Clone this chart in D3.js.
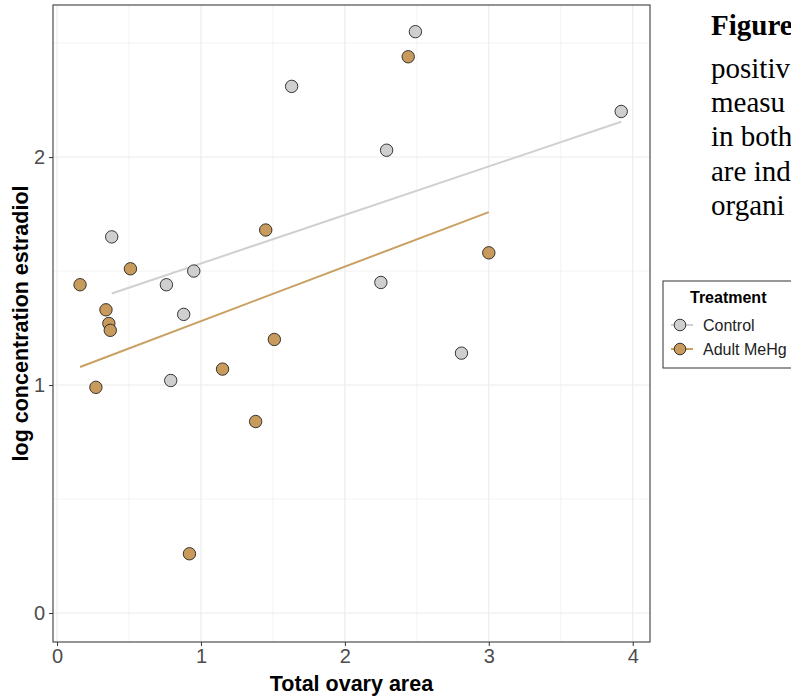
<!DOCTYPE html>
<html>
<head>
<meta charset="utf-8">
<script src="https://cdn.jsdelivr.net/npm/d3@7"></script>
<style>
  body { margin: 0; background: #fff; }
  svg { display: block; }
  text { font-family: "Liberation Sans", Arial, sans-serif; }
</style>
</head>
<body>
<svg id="chart" width="791" height="698"></svg>
<script>
// data
const treatments = ["Control", "Adult MeHg"]
const controlArea = [2.49, 1.63, 3.92, 2.29, 0.38, 0.95, 0.76, 2.25, 0.88, 0.79, 2.81]
const controlE2 = [2.55, 2.31, 2.20, 2.03, 1.65, 1.50, 1.44, 1.45, 1.31, 1.02, 1.14]
const mehgArea = [2.44, 1.45, 0.51, 0.16, 3.00, 0.34, 0.36, 0.37, 1.51, 1.15, 0.27, 1.38, 0.92]
const mehgE2 = [2.44, 1.68, 1.51, 1.44, 1.58, 1.33, 1.27, 1.24, 1.20, 1.07, 0.99, 0.84, 0.26]
const xTicks = [0, 1, 2, 3, 4]
const yTicks = [0, 1, 2]
const captionLines = ["positiv", "measu", "in both", "are ind", "organi"]

const colors = {"Control": "#cfcfcf", "Adult MeHg": "#c89b5c"}
const lineColors = {"Control": "#d0d0d0", "Adult MeHg": "#c9a062"}

const groups = [
  {name: "Control", pts: controlArea.map((a, i) => [a, controlE2[i]])},
  {name: "Adult MeHg", pts: mehgArea.map((a, i) => [a, mehgE2[i]])}
]

const margin = {top: 5, left: 53}
const width = 597, height = 637

const x = d3.scaleLinear().domain([-0.028, 4.12]).range([0, width])
const y = d3.scaleLinear().domain([-0.127, 2.667]).range([height, 0])

const svg = d3.select("#chart")
const g = svg.append("g").attr("transform", `translate(${margin.left},${margin.top})`)

// grid
const minorX = [0.5, 1.5, 2.5, 3.5], minorY = [0.5, 1.5, 2.5]
g.selectAll(".gx").data(minorX.concat(xTicks)).enter().append("line")
    .attr("x1", d => x(d)).attr("x2", d => x(d)).attr("y1", 0).attr("y2", height)
    .attr("stroke", "#ebebeb").attr("stroke-width", d => xTicks.includes(d) ? 1.1 : 0.6)
g.selectAll(".gy").data(minorY.concat(yTicks)).enter().append("line")
    .attr("y1", d => y(d)).attr("y2", d => y(d)).attr("x1", 0).attr("x2", width)
    .attr("stroke", "#ebebeb").attr("stroke-width", d => yTicks.includes(d) ? 1.1 : 0.6)

// regression lines (least squares over each group's x range)
function fit(pts) {
  const mx = d3.mean(pts, d => d[0]), my = d3.mean(pts, d => d[1])
  const b = d3.sum(pts, d => (d[0] - mx) * (d[1] - my)) / d3.sum(pts, d => (d[0] - mx) ** 2)
  const [lo, hi] = d3.extent(pts, d => d[0])
  return [[lo, my + b * (lo - mx)], [hi, my + b * (hi - mx)]]
}
const line = d3.line().x(d => x(d[0])).y(d => y(d[1]))
groups.forEach(gr => {
  g.append("path").attr("d", line(fit(gr.pts)))
      .attr("fill", "none").attr("stroke", lineColors[gr.name]).attr("stroke-width", 2)
})

// points
groups.forEach(gr => {
  g.selectAll(null).data(gr.pts).enter().append("circle")
      .attr("cx", d => x(d[0])).attr("cy", d => y(d[1])).attr("r", 6.2)
      .attr("fill", colors[gr.name]).attr("stroke", "#222").attr("stroke-width", 0.9)
})

// panel border
g.append("rect").attr("width", width).attr("height", height)
    .attr("fill", "none").attr("stroke", "#4d4d4d").attr("stroke-width", 1.2)

// axes
const xAxis = g.append("g").attr("transform", `translate(0,${height})`)
    .call(d3.axisBottom(x).tickValues(xTicks).tickSize(4).tickPadding(3).tickFormat(d3.format("d")))
const yAxis = g.append("g")
    .call(d3.axisLeft(y).tickValues(yTicks).tickSize(4).tickPadding(4).tickFormat(d3.format("d")))
;[xAxis, yAxis].forEach(a => {
  a.select(".domain").remove()
  a.selectAll(".tick line").attr("stroke", "#333")
  a.selectAll(".tick text").attr("fill", "#4d4d4d").style("font-size", "20px")
      .style("font-family", "'Liberation Sans', Arial, sans-serif")
})

// axis titles
svg.append("text").attr("x", margin.left + width / 2).attr("y", 691)
    .attr("text-anchor", "middle").style("font-size", "21.5px").style("font-weight", "bold")
    .text("Total ovary area")
svg.append("text").attr("transform", `translate(28,${margin.top + height / 2}) rotate(-90)`)
    .attr("text-anchor", "middle").style("font-size", "21.5px").style("font-weight", "bold")
    .text("log concentration estradiol")

// legend, right of the panel, running past the window edge
const lg = svg.append("g").attr("transform", "translate(663,281)")
lg.append("rect").attr("width", 160).attr("height", 87)
    .attr("fill", "#fff").attr("stroke", "#333").attr("stroke-width", 1)
lg.append("text").attr("x", 27).attr("y", 22).style("font-size", "16px").style("font-weight", "bold")
    .text("Treatment")
treatments.forEach((t, i) => {
  const ky = 44 + i * 24
  lg.append("line").attr("x1", 8).attr("x2", 30).attr("y1", ky).attr("y2", ky)
      .attr("stroke", lineColors[t]).attr("stroke-width", 2)
  lg.append("circle").attr("cx", 17).attr("cy", ky).attr("r", 5.8)
      .attr("fill", colors[t]).attr("stroke", "#222").attr("stroke-width", 0.9)
  lg.append("text").attr("x", 40).attr("y", ky + 6).style("font-size", "16px").attr("fill", "#222")
      .text(t)
})

// caption text on the right, cut by the window edge
const serif = "'Liberation Serif', 'Times New Roman', serif"
const cap = svg.append("g")
cap.append("text").attr("x", 711).attr("y", 35).style("font-size", "29px").style("font-weight", "bold")
    .style("font-family", serif).text("Figure")
captionLines.forEach((s, i) => {
  cap.append("text").attr("x", 711).attr("y", 78 + i * 34.2).style("font-size", "29px")
      .style("font-family", serif).text(s)
})
</script>
</body>
</html>
